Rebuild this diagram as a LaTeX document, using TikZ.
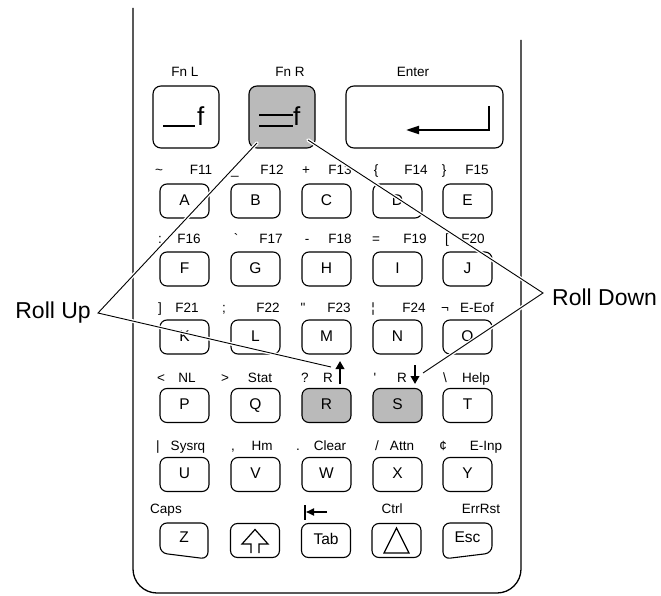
\documentclass[tikz,border=0pt]{standalone}
\usepackage{fontspec}
\setmainfont{Liberation Sans}
\usetikzlibrary{arrows.meta}
\definecolor{keygray}{RGB}{186,186,186}
\begin{document}
\begin{tikzpicture}[x=1pt,y=-1pt,
  outline/.style={line width=1.3pt},
  key/.style={draw, line width=1.1pt, rounded corners=7pt, minimum width=49pt, minimum height=34pt,
    inner sep=0pt, text height=11.2pt, text depth=3pt, font=\fontsize{15.5}{16}\selectfont},
  bigkey/.style={draw, line width=1.1pt, rounded corners=8pt, minimum height=62pt, inner sep=0pt},
  graykey/.style={fill=keygray},
  lab/.style={anchor=base, inner sep=0pt, font=\fontsize{13.5}{14}\selectfont},
  keytext/.style={inner sep=0pt, text height=11.2pt, text depth=3pt, font=\fontsize{15.5}{16}\selectfont},
  rolltext/.style={inner sep=0pt, font=\fontsize{23}{24}\selectfont},
  halo/.style={draw=white, line width=3.6pt, line join=round, line cap=round},
  leader/.style={draw=black, line width=0.9pt},
  fatarrow/.style={line width=2.4pt, -{Triangle[length=8pt,width=8.5pt]}},
]
\useasboundingbox (0,0) rectangle (661,596);

% body
\draw[outline, rounded corners=24pt] (133,8) -- (133,593) -- (521,593) -- (521,40);

% top keys
\node[lab] (tFnL) at (185,77) {Fn L};
\node[lab] (tFnR) at (290,77) {Fn R};
\node[lab] (tEnter) at (413,77) {Enter};
\node[bigkey, minimum width=66pt] (fnl) at (186,117) {};
\node[bigkey, graykey, minimum width=66pt] (fnr) at (282,117) {};
\node[bigkey, minimum width=157pt] (enter) at (424.5,117) {};
\draw[line width=2pt] (163,126) -- (195,126);
\node[inner sep=0pt, anchor=base west, font=\fontsize{26}{26}\selectfont] (fnlf) at (197,126) {f};
\draw[line width=2pt] (259,115) -- (293,115) (259,126) -- (293,126);
\node[inner sep=0pt, anchor=base west, font=\fontsize{26}{26}\selectfont] (fnrf) at (293,126) {f};
\draw[line width=2pt, -{Triangle[length=13pt,width=8pt]}] (489,106) -- (489,130) -- (406,130);

% regular keys
\foreach \l/\x/\y in {A/184.5/201, B/255.5/201, C/326.5/201, D/397.5/201, E/467.5/201,
  F/184.5/269, G/255.5/269, H/326.5/269, I/397.5/269, J/467.5/269,
  K/184.5/337, L/255.5/337, M/326.5/337, N/397.5/337, O/467.5/337,
  P/184.5/405.5, Q/255.5/405.5, T/467.5/405.5,
  U/184.5/474.5, V/255.5/474.5, W/326.5/474.5, X/397.5/474.5, Y/467.5/474.5}
  \node[key] (k\l) at (\x,\y) {\l};
\node[key, graykey] (kR) at (326.5,405.5) {R};
\node[key, graykey] (kS) at (397.5,405.5) {S};

% bottom row
\draw[line width=1.1pt, rounded corners=7pt] (160,553) -- (160,523) -- (208,523) -- (208,559) -- cycle;
\node[keytext] (kZ) at (184,538.5) {Z};
\node[key] (kShift) at (255,540.5) {};
\draw[line width=1.2pt] (251,553) -- (251,544) -- (242,544) -- (255,529.5) -- (268,544) -- (259,544) -- (259,553);
\node[key] (kTab) at (326,540.5) {Tab};
\node[key] (kCtrl) at (396.5,540.5) {};
\draw[line width=1.2pt] (384,553) -- (396.5,528) -- (409,553) -- cycle;
\draw[line width=1.1pt, rounded corners=7pt] (443,559) -- (443,523) -- (492,523) -- (492,553) -- cycle;
\node[keytext] (kEsc) at (467.5,538.5) {Esc};

% key labels
\foreach \t/\x/\y [count=\i] in {
  {\textasciitilde}/159/175, {F11}/201/175, {\_}/235/175, {F12}/272/175, {+}/306/175,
  {F13}/340/175, {\{}/376/175, {F14}/416/175, {\}}/444/175, {F15}/477/175,
  {:}/160/243, {F16}/189/243, {\textasciigrave}/236/243, {F17}/271/243, {-}/307/243,
  {F18}/340/243, {=}/376/243, {F19}/415/243, {[}/447/243, {F20}/473/243,
  {]}/160/312, {F21}/187/312, {;}/224/312, {F22}/268/312, {\textquotedbl}/303/312,
  {F23}/339/312, {¦}/373/312, {F24}/414/312, {¬}/445/312, {E-Eof}/477/312,
  {<}/161/382, {NL}/187/382, {>}/225/382, {Stat}/260/382, {?}/305/382,
  {R}/328/382, {\textquotesingle}/375/382, {R}/402/382, {\textbackslash}/445/382, {Help}/476/382,
  {|}/158/450, {Sysrq}/188/450, {,}/233/450, {Hm}/262/450, {.}/298/450,
  {Clear}/330/450, {\slash}/377/450, {Attn}/402/450, {¢}/443/450, {E-Inp}/486/450,
  {Caps}/166/513, {Ctrl}/392/513, {ErrRst}/481/513}
  \node[lab] (lab\i) at (\x,\y) {\t};

% arrows in labels
\draw[fatarrow] (340,384) -- (340,361);
\draw[fatarrow] (415,365) -- (415,384);
\draw[line width=1.6pt] (305,505) -- (305,520);
\draw[line width=1.8pt, -{Triangle[length=8pt,width=7pt]}] (327,512) -- (306,512);

% roll labels and leaders
\node[rolltext, anchor=east] (rollup) at (91,313) {Roll Up};
\node[rolltext, anchor=west] (rolldown) at (552,297) {Roll Down};
\coordinate (ua) at (98,313);
\coordinate (da) at (543,293);
\coordinate (uend1) at (257,143);
\coordinate (uend2) at (331,367);
\coordinate (dend1) at (308,140);
\coordinate (dend2) at (423,373);
\path[halo] (uend1) -- (ua) -- (uend2);
\path[halo] (dend1) -- (da) -- (dend2);
\path[leader] (uend1) -- (ua) -- (uend2);
\path[leader] (dend1) -- (da) -- (dend2);
\end{tikzpicture}
\end{document}
